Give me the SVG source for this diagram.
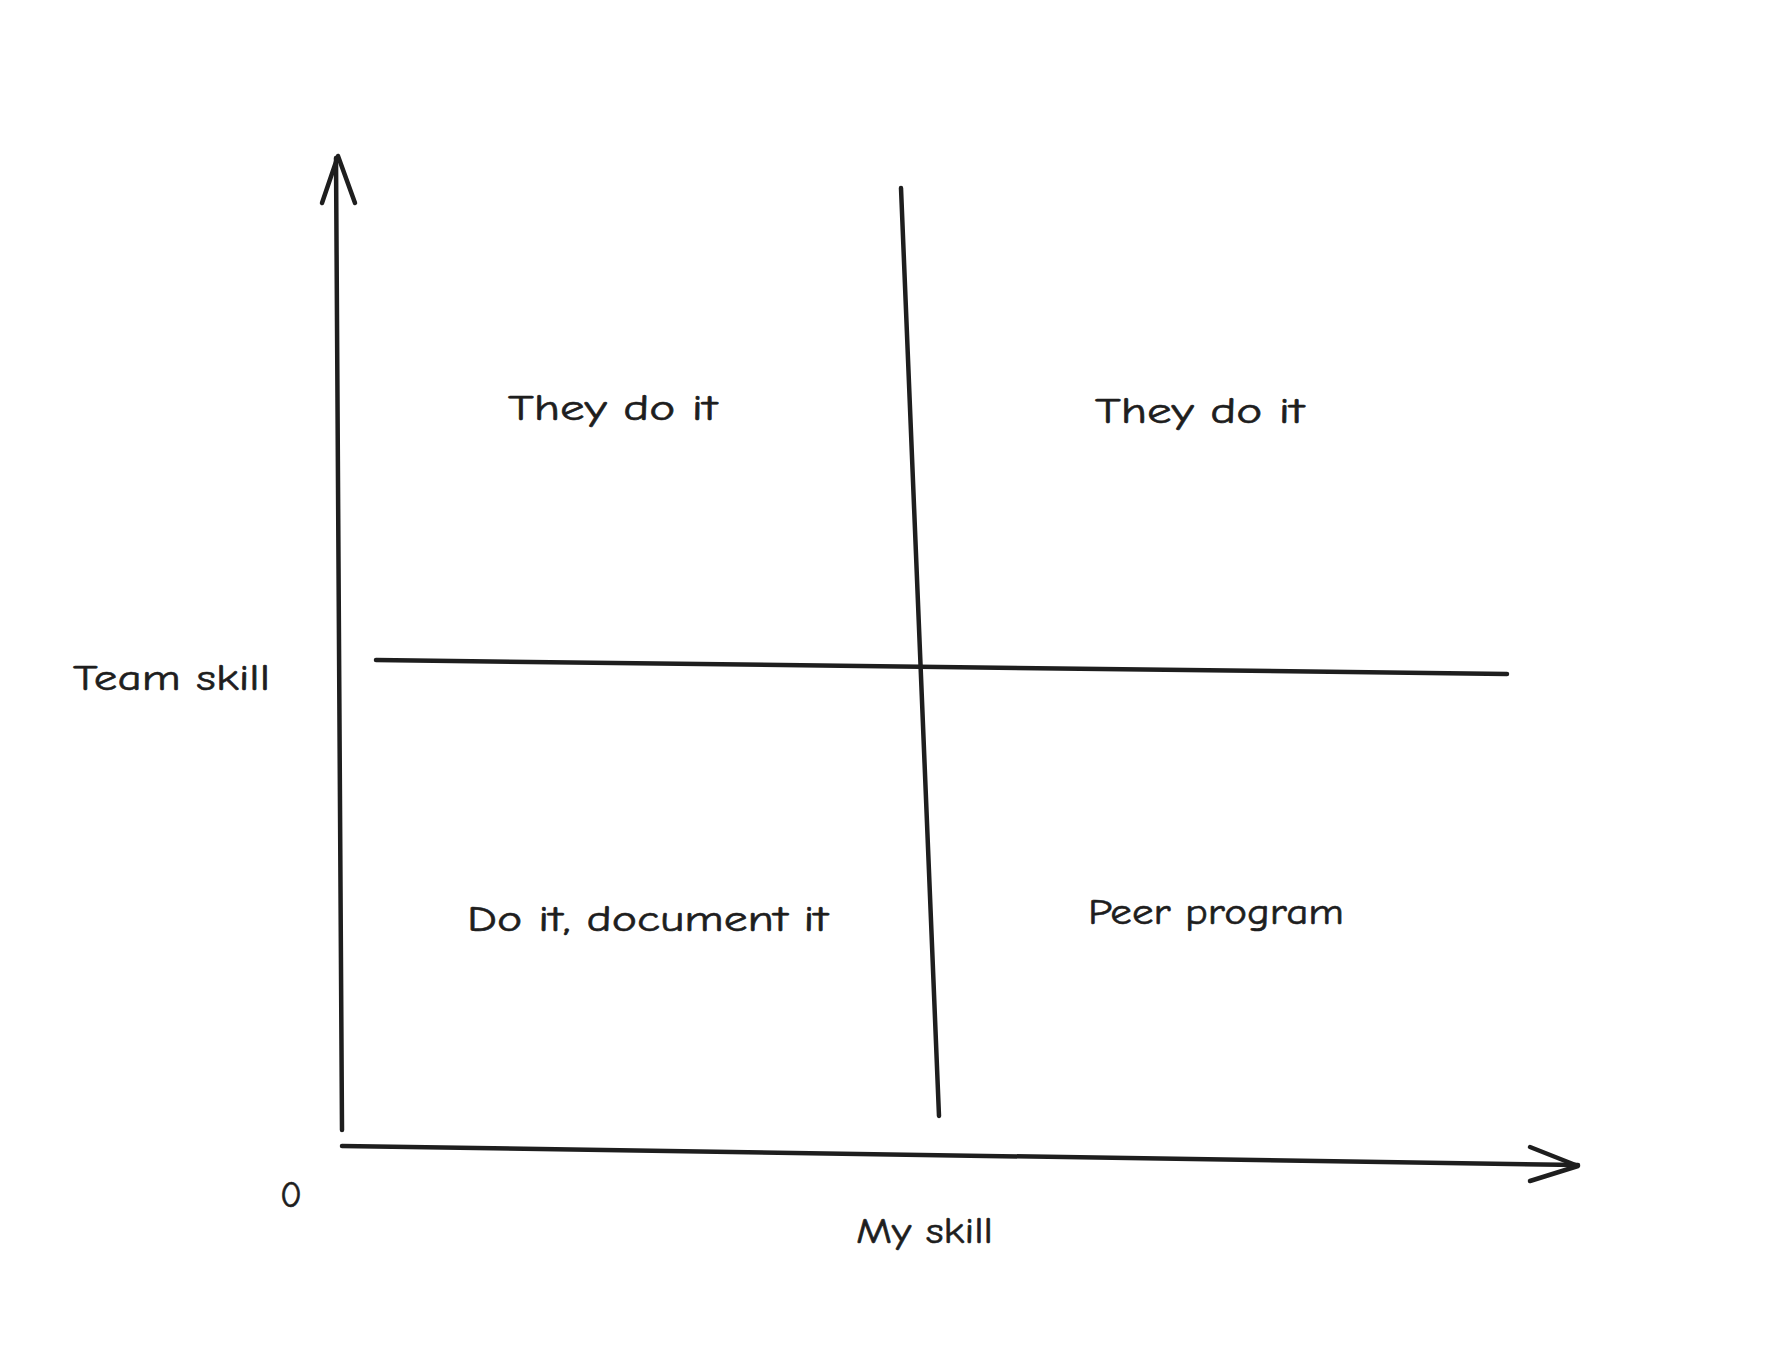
<svg xmlns="http://www.w3.org/2000/svg" width="1786" height="1372" viewBox="0 0 1786 1372">
<style>
.ln{fill:none;stroke:#1e1e1e;stroke-width:4.5;stroke-linecap:round;stroke-linejoin:round}
.t{font-family:"Comic Neue","Noto Sans","Liberation Sans",sans-serif;font-size:36px;fill:#1e1e1e;stroke:#1e1e1e;stroke-width:0.6}
</style>
<rect width="1786" height="1372" fill="#ffffff"/>
<g id="connectors">
<path class="ln" d="M342 1130 L336 158"/>
<path class="ln" d="M322 203 L338 156 L355 203"/>
<path class="ln" d="M342 1146 L1578 1165"/>
<path class="ln" d="M1530 1147 L1578 1166 L1530 1181"/>
<path class="ln" d="M901 188 L939 1116"/>
<path class="ln" d="M376 660 L1507 674"/>
</g>
<g id="q-tl"><text class="t" x="508" y="420" textLength="209" lengthAdjust="spacingAndGlyphs">They do it</text></g>
<g id="q-tr"><text class="t" x="1095" y="423" textLength="209" lengthAdjust="spacingAndGlyphs">They do it</text></g>
<g id="q-bl"><text class="t" x="467" y="931" textLength="361" lengthAdjust="spacingAndGlyphs">Do it, document it</text></g>
<g id="q-br"><text class="t" x="1088" y="924" textLength="256" lengthAdjust="spacingAndGlyphs">Peer program</text></g>
<g id="y-label"><text class="t" x="73" y="690" textLength="197" lengthAdjust="spacingAndGlyphs">Team skill</text></g>
<g id="x-label"><text class="t" x="856" y="1243" textLength="137" lengthAdjust="spacingAndGlyphs">My skill</text></g>
<g id="origin"><text class="t" x="280" y="1207">0</text></g>
</svg>
